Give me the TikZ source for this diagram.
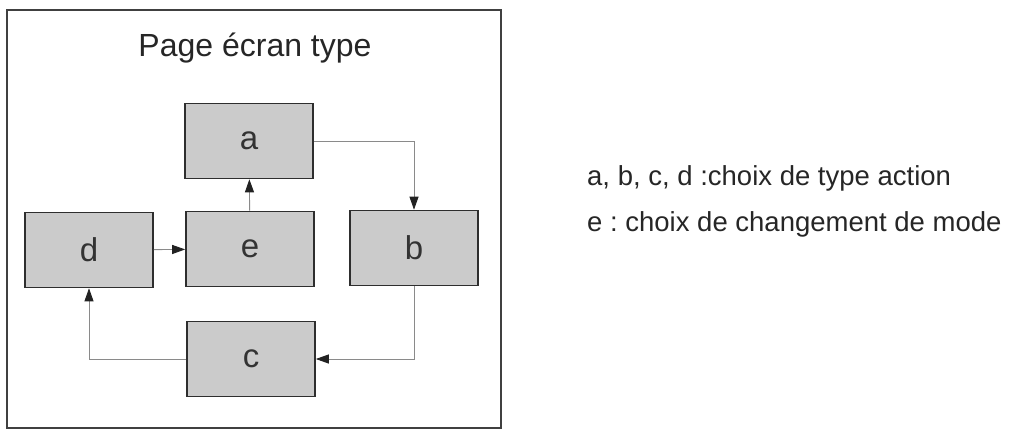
\documentclass[tikz,border=0pt]{standalone}
\usepackage{fontspec}
\setmainfont{Liberation Sans}
\usetikzlibrary{arrows.meta}
\frenchspacing
\definecolor{boxfill}{HTML}{CBCBCB}
\definecolor{boxline}{HTML}{2E2E2E}
\definecolor{conn}{HTML}{8A8A8A}
\definecolor{tip}{HTML}{222222}
\tikzset{
  box/.style={draw=boxline, line width=1.6pt, fill=boxfill, minimum width=128pt, minimum height=75pt, inner sep=0pt, font=\fontsize{33}{36}\selectfont, text=black!80},
  conn/.style={draw=conn, line width=0.9pt, -{Triangle[length=13pt,width=9pt,color=tip]}},
  legend/.style={anchor=west, inner sep=0pt, font=\fontsize{27.5}{30}\selectfont, text=black!85},
}
\begin{document}
\begin{tikzpicture}[x=1pt,y=-1pt]
\useasboundingbox (0,0) rectangle (1015,429);
\draw[draw=black!75, line width=1.8pt] (7,10) rectangle (501,428);
\node[font=\fontsize{32}{36}\selectfont, text=black!85] (title) at (255,48) {Page écran type};
\node[box] (a) at (249,141) {a};
\node[box] (e) at (250,249) {e};
\node[box] (d) at (89,250) {d};
\node[box] (b) at (414,248) {b};
\node[box] (c) at (251,359) {c};
\draw[conn] (e) -- (a);
\draw[conn] (d) -- (e);
\draw[conn] (a.east) -| (b.north);
\draw[conn] (b.south) |- (c.east);
\draw[conn] (c.west) -| (d.south);
\node[legend] (l1) at (587,178) {a, b, c, d :choix de type action};
\node[legend] (l2) at (587,224) {e : choix de changement de mode};
\end{tikzpicture}
\end{document}
